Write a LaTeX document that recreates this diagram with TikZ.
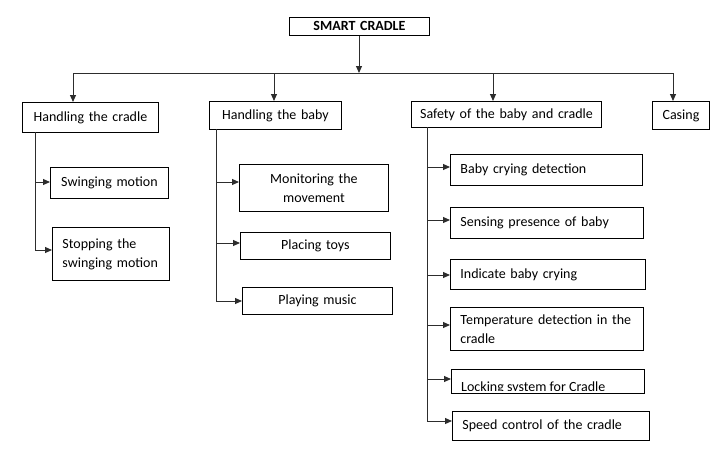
\documentclass[tikz,border=0pt]{standalone}
\usepackage{fontspec}
\setmainfont{Carlito}
\usetikzlibrary{arrows.meta}
\definecolor{ln}{RGB}{45,45,45}
\tikzset{
  box/.style={draw=black, line width=0.9pt, inner ysep=0pt, inner xsep=10pt, anchor=north west, font=\fontsize{14}{19}\selectfont},
  cbox/.style={box, align=center, inner xsep=2pt},
  lbox/.style={box, align=left},
  arr/.style={draw=ln, line width=1pt, -{Triangle[length=7pt,width=6pt]}},
  ln/.style={draw=ln, line width=1pt}
}
\begin{document}
\begin{tikzpicture}[x=1pt,y=-1pt]
\useasboundingbox (0,0) rectangle (728,467);
% root
\node[cbox, font=\bfseries\fontsize{14}{16}\selectfont, minimum height=18pt, text width=136pt] (root) at (289,17) {SMART CRADLE};
% level 1
\node[cbox, minimum height=30pt, text width=132pt] (hc) at (22,102) {Handling the cradle};
\node[cbox, minimum height=28pt, text width=128pt] (hb) at (209,101) {Handling the baby};
\node[cbox, minimum height=26pt, text width=186pt] (sf) at (411,101) {Safety of the baby and cradle};
\node[cbox, minimum height=28pt, text width=53pt] (cs) at (652,101) {Casing};
% cradle children
\node[cbox, minimum height=31pt, text width=114pt] (sw) at (50,167) {Swinging motion};
\node[lbox, minimum height=53pt, text width=97pt] (st) at (52,227) {Stopping the\\swinging motion};
% baby children
\node[cbox, minimum height=47pt, text width=145pt] (mo) at (239,164) {Monitoring the\\movement};
\node[cbox, minimum height=27pt, text width=146pt] (pt) at (240,232) {Placing toys};
\node[cbox, minimum height=27pt, text width=146pt] (pm) at (242,287) {Playing music};
% safety children
\node[lbox, minimum height=31pt, text width=172pt] (bc) at (450,154) {Baby crying detection};
\node[lbox, minimum height=31pt, text width=173pt] (sp) at (450,207) {Sensing presence of baby};
\node[lbox, minimum height=30pt, text width=175pt] (ic) at (450,259) {Indicate baby crying};
\node[lbox, minimum height=43pt, text width=173pt] (td) at (450,307) {Temperature detection in the\\cradle};
\node[box, minimum height=24pt, minimum width=193pt, inner xsep=0pt] (lk) at (451,369) {};
\begin{scope}
\clip (451,369) rectangle (644,390);
\node[anchor=base west, inner sep=0pt, font=\fontsize{14}{19}\selectfont] (lkt) at (461,391) {Locking system for Cradle};
\end{scope}
\node[lbox, minimum height=29pt, text width=177pt] (sc) at (452,411) {Speed control of the cradle};
% bus
\coordinate (bus) at (359,73);
\coordinate (b1) at (73,73);
\coordinate (b2) at (274,73);
\coordinate (b3) at (493,73);
\coordinate (b4) at (673,73);
\draw[arr] (root.south -| bus) -- (bus);
\draw[ln] (b1) -- (b4);
\draw[arr] (b1) -- (b1 |- hc.north);
\draw[arr] (b2) -- (b2 |- hb.north);
\draw[arr] (b3) -- (b3 |- sf.north);
\draw[arr] (b4) -- (b4 |- cs.north);
% left spine
\coordinate (s1) at (35,132);
\coordinate (s1a) at (35,182);
\coordinate (s1b) at (35,250);
\draw[arr] (s1a) -- (s1a -| sw.west);
\draw[arr] (s1) -- (s1b) -- (s1b -| st.west);
% middle spine
\coordinate (s2) at (216,129);
\coordinate (s2a) at (216,182);
\coordinate (s2b) at (216,243);
\coordinate (s2c) at (216,301);
\draw[arr] (s2a) -- (s2a -| mo.west);
\draw[arr] (s2b) -- (s2b -| pt.west);
\draw[arr] (s2) -- (s2c) -- (s2c -| pm.west);
% right spine
\coordinate (s3) at (427,127);
\coordinate (s3a) at (427,167);
\coordinate (s3b) at (427,220);
\coordinate (s3c) at (427,275);
\coordinate (s3d) at (427,325);
\coordinate (s3e) at (427,379);
\coordinate (s3f) at (427,421);
\draw[arr] (s3a) -- (s3a -| bc.west);
\draw[arr] (s3b) -- (s3b -| sp.west);
\draw[arr] (s3c) -- (s3c -| ic.west);
\draw[arr] (s3d) -- (s3d -| td.west);
\draw[arr] (s3e) -- (s3e -| lk.west);
\draw[arr] (s3) -- (s3f) -- (s3f -| sc.west);
\end{tikzpicture}
\end{document}
